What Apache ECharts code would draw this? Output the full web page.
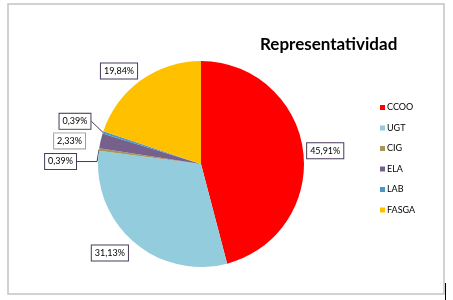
<!DOCTYPE html>
<html>
<head>
<meta charset="utf-8">
<script src="https://cdn.jsdelivr.net/npm/echarts@6/dist/echarts.min.js"></script>
<style>html,body{margin:0;padding:0;background:#fff;}#c{width:453px;height:300px;}</style>
</head>
<body>
<div id="c"></div>
<script>
const categories = ['CCOO', 'UGT', 'CIG', 'ELA', 'LAB', 'FASGA'];
const values = [45.91, 31.13, 0.39, 2.33, 0.39, 19.84];
const colors = ['#FF0000', '#93CDDD', '#A8955A', '#75618C', '#4A98C8', '#FFC000'];
const titleText = 'Representatividad';

// per-slice label placement (leader line lengths, vertical nudge)
const labelCfg = [
  {len: 1, len2: 0, dist: 3, line: false, border: '#4a3a5a', dy: 0},
  {len: 15.5, len2: 0, dist: -5.2, line: false, border: '#4a3a5a', dy: 0},
  {len: 0, len2: 20, dist: 3, line: true, border: '#4a3a5a', dy: 12},
  {len: 0, len2: 12, dist: 3.6, line: false, border: '#a0a0a0', dy: 0},
  {len: 10, len2: 0, dist: 3, line: true, border: '#4a3a5a', dy: -8},
  {len: 11.5, len2: 0, dist: -2.9, line: false, border: '#4a3a5a', dy: 0}
];

const data = categories.map((name, i) => ({
  name: name,
  value: values[i],
  itemStyle: {color: colors[i]},
  label: {borderColor: labelCfg[i].border, distanceToLabelLine: labelCfg[i].dist},
  labelLine: {show: labelCfg[i].line, length: labelCfg[i].len, length2: labelCfg[i].len2}
}));

const chart = echarts.init(document.getElementById('c'), null, {renderer: 'canvas'});
chart.setOption({
  animation: false,
  backgroundColor: '#fff',
  title: {
    text: titleText,
    left: 255, top: 31,
    textStyle: {fontFamily: 'Lato', fontWeight: 'bold', fontSize: 17, color: '#000'}
  },
  legend: {
    orient: 'vertical',
    left: 375, top: 97.5,
    itemWidth: 5, itemHeight: 5, itemGap: 10.5,
    icon: 'rect',
    data: categories,
    textStyle: {fontFamily: 'Lato', fontSize: 9, color: '#000', lineHeight: 10, padding: [0, 0, 0, -3]}
  },
  graphic: [
    {type: 'rect', shape: {x: 8, y: 4, width: 436, height: 290}, style: {fill: 'none', stroke: '#c4c4c4', lineWidth: 1.5}, silent: true},
    {type: 'line', shape: {x1: 445.5, y1: 283, x2: 445.5, y2: 300}, style: {stroke: '#000', lineWidth: 1}, silent: true}
  ],
  series: [{
    type: 'pie',
    center: [201, 164],
    radius: 103,
    startAngle: 90,
    clockwise: true,
    avoidLabelOverlap: false,
    label: {
      show: true,
      position: 'outside',
      formatter: p => p.value.toFixed(2).replace('.', ',') + '%',
      fontFamily: 'Lato', fontSize: 9, color: '#000', lineHeight: 11,
      backgroundColor: '#fff', borderWidth: 1, padding: [2, 3]
    },
    labelLine: {lineStyle: {color: '#4a3a4a', width: 1}, smooth: false},
    labelLayout: function (params) {
      const dy = labelCfg[params.dataIndex].dy;
      if (dy) {
        return {y: params.labelRect.y + params.labelRect.height / 2 + dy};
      }
      return {};
    },
    itemStyle: {borderWidth: 0},
    emphasis: {disabled: true},
    data: data
  }]
});
</script>
</body>
</html>
